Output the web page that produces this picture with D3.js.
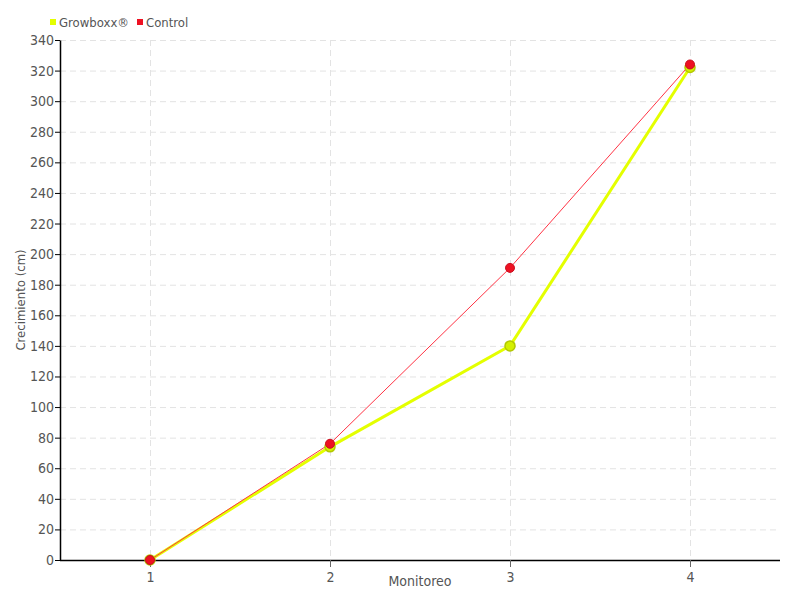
<!DOCTYPE html>
<html>
<head>
<meta charset="utf-8">
<script src="https://cdn.jsdelivr.net/npm/d3@7"></script>
<style>
  body { margin: 0; background: #fff; }
  text { font-family: "DejaVu Sans Condensed", "DejaVu Sans", sans-serif; fill: #555; }
</style>
</head>
<body>
<svg id="chart" width="800" height="600"></svg>
<script>
var monitoreo = ["1", "2", "3", "4"];
var growboxx = [0, 74, 140, 322];
var control = [0, 76, 191, 324];
var yTicks = d3.range(0, 341, 20);

var width = 800, height = 600;
var margin = {top: 40, right: 20, bottom: 40, left: 60};

var svg = d3.select("#chart");

var x = d3.scalePoint()
    .domain(monitoreo)
    .range([margin.left, width - margin.right])
    .padding(0.5);

var y = d3.scaleLinear()
    .domain([0, 340])
    .range([height - margin.bottom, margin.top]);

// grid
var grid = svg.append("g").attr("class", "grid");
grid.selectAll("line.h").data(yTicks.slice(1)).enter().append("line")
    .attr("x1", margin.left).attr("x2", width - margin.right)
    .attr("y1", d => y(d) + 0.5).attr("y2", d => y(d) + 0.5)
    .attr("stroke", "#e3e3e3").attr("stroke-dasharray", "6,4");
grid.selectAll("line.v").data(monitoreo).enter().append("line")
    .attr("x1", d => x(d) + 0.5).attr("x2", d => x(d) + 0.5)
    .attr("y1", margin.top).attr("y2", height - margin.bottom)
    .attr("stroke", "#e3e3e3").attr("stroke-dasharray", "6,4");

// axes
var xAxis = g => g
  .attr("transform", `translate(0,${height - margin.bottom})`)
  .call(d3.axisBottom(x).tickSize(7).tickSizeOuter(0))
  .call(g => g.select(".domain").attr("stroke", "#000").attr("stroke-width", 1.5)
      .attr("d", `M${margin.left},0.5H${width - margin.right}`))
  .call(g => g.selectAll(".tick line").attr("stroke", "#666"))
  .call(g => g.selectAll(".tick text").attr("dy", "0.85em"));

var yAxis = g => g
  .attr("transform", `translate(${margin.left},0)`)
  .call(d3.axisLeft(y).tickValues(yTicks).tickSize(5).tickSizeOuter(0))
  .call(g => g.select(".domain").attr("stroke", "#000").attr("stroke-width", 1.5))
  .call(g => g.selectAll(".tick line").attr("stroke", "#000"))
  .call(g => g.selectAll(".tick text").attr("x", -6));

svg.append("g").call(xAxis).attr("font-size", 14);
svg.append("g").call(yAxis).attr("font-size", 14);

svg.selectAll(".tick text").style("fill", "#555")
  .style("font-family", "'DejaVu Sans Condensed', sans-serif");

// axis titles
svg.append("text")
  .attr("x", (margin.left + width - margin.right) / 2)
  .attr("y", 586)
  .attr("text-anchor", "middle")
  .attr("font-size", 14)
  .text("Monitoreo");

svg.append("text")
  .attr("transform", `translate(25,${(margin.top + height - margin.bottom) / 2}) rotate(-90)`)
  .attr("text-anchor", "middle")
  .attr("font-size", 13)
  .text("Crecimiento (cm)");

// lines
var line = d3.line().x((d, i) => x(monitoreo[i])).y(d => y(d));

svg.append("path").datum(growboxx)
  .attr("fill", "none").attr("stroke", "#e4ff00").attr("stroke-width", 3)
  .attr("d", line);
svg.append("path").datum(control)
  .attr("fill", "none").attr("stroke", "#ff3344").attr("stroke-width", 1)
  .attr("d", line);

svg.append("g").selectAll("circle").data(growboxx).enter().append("circle")
  .attr("cx", (d, i) => x(monitoreo[i])).attr("cy", d => y(d)).attr("r", 5)
  .attr("fill", "#d4f000").attr("stroke", "#b3c800").attr("stroke-width", 1.5);
svg.append("g").selectAll("circle").data(control).enter().append("circle")
  .attr("cx", (d, i) => x(monitoreo[i])).attr("cy", d => y(d)).attr("r", 4.5)
  .attr("fill", "#ee1122").attr("stroke", "#c81020").attr("stroke-width", 1);

// legend
var legend = [{name: "Growboxx®", color: "#e4ff00"}, {name: "Control", color: "#ee1122"}];
var lx = [50, 137];
var lg = svg.append("g").selectAll("g").data(legend).enter().append("g")
  .attr("transform", (d, i) => `translate(${lx[i]},0)`);
lg.append("rect").attr("x", 0).attr("y", 19).attr("width", 6).attr("height", 6)
  .attr("fill", d => d.color);
lg.append("text").attr("x", 9).attr("y", 27).attr("font-size", 13)
  .text(d => d.name);
</script>
</body>
</html>
